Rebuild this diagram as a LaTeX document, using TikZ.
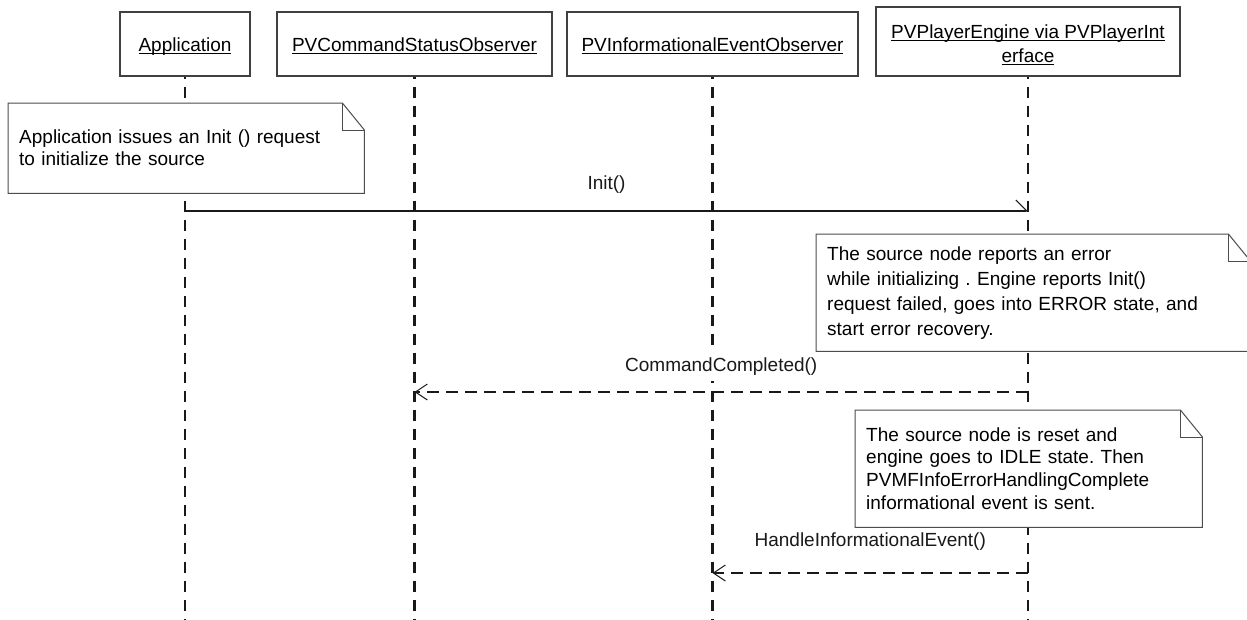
\documentclass[tikz,border=0pt]{standalone}
\usepackage{fontspec}
\setmainfont{Liberation Sans}
\frenchspacing
\usetikzlibrary{arrows.meta, positioning, calc}
\colorlet{colLinea}{black!90}
\colorlet{colBorde}{black!75}
\colorlet{colNota}{black!70}
\newcommand{\subrayar}[1]{\setbox0\hbox{#1}\rlap{\rule[-3pt]{\wd0}{1.2pt}}\box0}
\tikzset{
  cajaObjeto/.style={
    draw=colBorde, line width=1.2pt, fill=white,
    minimum height=64pt, inner sep=0pt, align=center
  },
  cajaSimple/.style={cajaObjeto, text height=14pt, text depth=0pt},
  lineaVida/.style={colLinea, line width=2.4pt, dash pattern=on 11pt off 8pt, dash phase=9pt},
  notaUML/.style={
    fill=white, anchor=north west, align=left,
    inner xsep=11pt, inner ysep=0pt, minimum height=117pt
  },
  bordeNota/.style={draw=colNota, line width=1pt},
  mensaje/.style={colLinea, line width=1.2pt,
    -{Straight Barb[harpoon, length=11pt, width=22pt, line width=1pt]}},
  respuesta/.style={colLinea, line width=2.4pt, dash pattern=on 12pt off 7pt,
    -{Straight Barb[length=12pt, width=16pt, line width=1pt]}},
  etiquetaMsg/.style={inner xsep=2pt, inner ysep=5pt, fill=white, above=#1},
  etiquetaMsg/.default=12pt,
}

\begin{document}
\begin{tikzpicture}[x=1pt, y=-1pt, every node/.style={font=\fontsize{19}{25}\selectfont}]
  \useasboundingbox (0,0) rectangle (1247,619);
  \clip (0,0) rectangle (1247,619);

  % objetos
  \node[cajaSimple, minimum width=130pt] (app) at (185,44) {\subrayar{Application}};
  \node[cajaSimple, minimum width=275pt] (cso) at (414.5,44) {\subrayar{PVCommandStatusObserver}};
  \node[cajaSimple, minimum width=291pt] (ieo) at (712.5,44) {\subrayar{PVInformationalEventObserver}};
  \node[cajaObjeto, minimum width=304pt, minimum height=69pt, font=\fontsize{19}{24}\selectfont]
    (eng) at (1028,41.5) {\rule{0pt}{20pt}\subrayar{PVPlayerEngine via PVPlayerInt}\\\subrayar{erface}};

  % lineas de vida
  \coordinate (fondo) at (0,619);
  \foreach \o in {app,cso,ieo,eng}
    \draw[lineaVida] (\o.south) -- (\o.south |- fondo);

  % notas
  \node[notaUML, text width=334pt, minimum height=90pt, font=\fontsize{19}{22}\selectfont]
    (nota1) at (8,103) {Application issues an Init () request\\to initialize the source};
  \node[notaUML, text width=412pt] (nota2) at (816,234)
    {The source node reports an error\\while initializing . Engine reports Init()\\request failed, goes into ERROR state, and\\start error recovery.};
  \node[notaUML, text width=325pt, font=\fontsize{19}{23}\selectfont] (nota3) at (855,410)
    {The source node is reset and\\engine goes to IDLE state. Then\\PVMFInfoErrorHandlingComplete\\informational event is sent.};
  \foreach \n in {nota1,nota2,nota3} {
    \draw[bordeNota] (\n.south west) -- (\n.north west) -- ([xshift=-22pt]\n.north east)
      -- ([yshift=-27pt]\n.north east) -- (\n.south east) -- cycle;
    \draw[bordeNota] ([xshift=-22pt]\n.north east) |- ([yshift=-27pt]\n.north east);
  }

  % mensajes
  \coordinate (yInit) at (0,211);
  \coordinate (yCmd) at (0,392);
  \coordinate (yInfo) at (0,573);
  \draw[mensaje] (app |- yInit) -- node[etiquetaMsg=12pt] {Init()} (eng |- yInit);
  \draw[respuesta] (eng |- yCmd) -- node[etiquetaMsg=10pt] {CommandCompleted()} (cso |- yCmd);
  \draw[respuesta] (eng |- yInfo) -- node[etiquetaMsg=16pt] {HandleInformationalEvent()} (ieo |- yInfo);
\end{tikzpicture}
\end{document}
